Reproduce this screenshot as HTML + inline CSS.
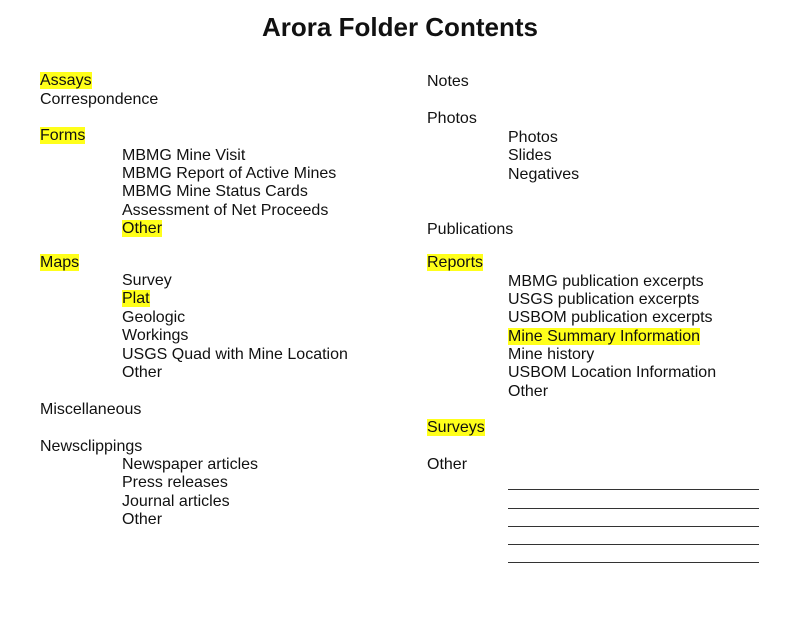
<!DOCTYPE html>
<html><head><style>
body{margin:0;width:800px;height:618px;background:#fff;position:relative;overflow:hidden;font-family:"Liberation Sans",Arial,sans-serif;color:#111}
.t{position:absolute;font-size:16px;line-height:18px;white-space:nowrap;margin-top:1px}
.h{background:#ffff1a}
.ln{position:absolute;left:508px;width:251px;height:0;border-top:1.3px solid #333}
h1{position:absolute;top:11px;left:0;width:800px;text-align:center;margin:0;font-size:26px;font-weight:bold;line-height:32px}
</style></head><body>
<h1>Arora Folder Contents</h1>
<div class="t" style="left:40px;top:71px"><span class="h">Assays</span></div>
<div class="t" style="left:40px;top:90px">Correspondence</div>
<div class="t" style="left:40px;top:126px"><span class="h">Forms</span></div>
<div class="t" style="left:122px;top:146px">MBMG Mine Visit</div>
<div class="t" style="left:122px;top:164px">MBMG Report of Active Mines</div>
<div class="t" style="left:122px;top:182px">MBMG Mine Status Cards</div>
<div class="t" style="left:122px;top:201px">Assessment of Net Proceeds</div>
<div class="t" style="left:122px;top:219px"><span class="h">Other</span></div>
<div class="t" style="left:40px;top:253px"><span class="h">Maps</span></div>
<div class="t" style="left:122px;top:271px">Survey</div>
<div class="t" style="left:122px;top:289px"><span class="h">Plat</span></div>
<div class="t" style="left:122px;top:308px">Geologic</div>
<div class="t" style="left:122px;top:326px">Workings</div>
<div class="t" style="left:122px;top:345px">USGS Quad with Mine Location</div>
<div class="t" style="left:122px;top:363px">Other</div>
<div class="t" style="left:40px;top:400px">Miscellaneous</div>
<div class="t" style="left:40px;top:437px">Newsclippings</div>
<div class="t" style="left:122px;top:455px">Newspaper articles</div>
<div class="t" style="left:122px;top:473px">Press releases</div>
<div class="t" style="left:122px;top:492px">Journal articles</div>
<div class="t" style="left:122px;top:510px">Other</div>

<div class="t" style="left:427px;top:72px">Notes</div>
<div class="t" style="left:427px;top:109px">Photos</div>
<div class="t" style="left:508px;top:128px">Photos</div>
<div class="t" style="left:508px;top:146px">Slides</div>
<div class="t" style="left:508px;top:165px">Negatives</div>
<div class="t" style="left:427px;top:220px">Publications</div>
<div class="t" style="left:427px;top:253px"><span class="h">Reports</span></div>
<div class="t" style="left:508px;top:272px">MBMG publication excerpts</div>
<div class="t" style="left:508px;top:290px">USGS publication excerpts</div>
<div class="t" style="left:508px;top:308px">USBOM publication excerpts</div>
<div class="t" style="left:508px;top:327px"><span class="h">Mine Summary Information</span></div>
<div class="t" style="left:508px;top:345px">Mine history</div>
<div class="t" style="left:508px;top:363px">USBOM Location Information</div>
<div class="t" style="left:508px;top:382px">Other</div>
<div class="t" style="left:427px;top:418px"><span class="h">Surveys</span></div>
<div class="t" style="left:427px;top:455px">Other</div>
<div class="ln" style="top:489px"></div>
<div class="ln" style="top:508px"></div>
<div class="ln" style="top:526px"></div>
<div class="ln" style="top:544px"></div>
<div class="ln" style="top:562px"></div>
</body></html>
